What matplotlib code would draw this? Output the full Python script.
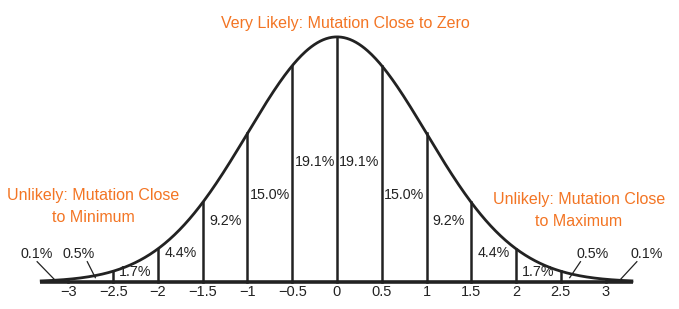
import numpy as np
import matplotlib.pyplot as plt

plt.rcParams['font.family'] = ['Liberation Sans', 'DejaVu Sans']

# data
tick_vals = [-3, -2.5, -2, -1.5, -1, -0.5, 0, 0.5, 1, 1.5, 2, 2.5, 3]
tick_labels = ['\u22123', '\u22122.5', '\u22122', '\u22121.5', '\u22121', '\u22120.5',
               '0', '0.5', '1', '1.5', '2', '2.5', '3']
band_pct = ['1.7%', '4.4%', '9.2%', '15.0%', '19.1%', '19.1%', '15.0%', '9.2%', '4.4%', '1.7%']
band_mid = [-2.25, -1.75, -1.25, -0.75, -0.25, 0.25, 0.75, 1.25, 1.75, 2.25]
band_y = [0.016, 0.047, 0.099, 0.142, 0.195, 0.195, 0.142, 0.099, 0.047, 0.016]
tail_pct = ['0.5%', '0.1%']

orange = '#f37524'
ink = '#222222'


def pdf(x):
    return np.exp(-0.5 * np.asarray(x) ** 2) / np.sqrt(2 * np.pi)


fig = plt.figure(figsize=(6.79, 3.09), dpi=100)
ax = fig.add_axes([0, 0, 1, 1])
ax.set_xlim(-3.765, 3.821)
ax.set_ylim(-0.044, 0.459)
ax.axis('off')

# curve
xs = np.linspace(-3.32, 3.31, 600)
ax.plot(xs, pdf(xs), color=ink, lw=2, solid_capstyle='butt')

# gray tails
for lo, hi in [(-3.32, -3), (3, 3.31)]:
    xt = np.linspace(lo, hi, 50)
    ax.fill_between(xt, 0, pdf(xt), color='#888888', lw=0)

# baseline
ax.plot([-3.32, 3.31], [0, 0], color=ink, lw=2.6, solid_capstyle='butt')

# vertical dividers + tick labels
for v, lab in zip(tick_vals, tick_labels):
    ax.plot([v, v], [0, pdf(v)], color=ink, lw=1.8)
    ax.text(v, -0.017, lab, ha='center', va='center', fontsize=10.5, color=ink)

# band percentages
for m, y, p in zip(band_mid, band_y, band_pct):
    ax.text(m, y, p, ha='center', va='center', fontsize=10.3, color=ink)

# tail labels with leader lines
ax.text(-2.89, 0.046, tail_pct[0], ha='center', va='center', fontsize=10.3, color=ink)
ax.text(-3.35, 0.046, tail_pct[1], ha='center', va='center', fontsize=10.3, color=ink)
ax.text(2.86, 0.046, tail_pct[0], ha='center', va='center', fontsize=10.3, color=ink)
ax.text(3.46, 0.046, tail_pct[1], ha='center', va='center', fontsize=10.3, color=ink)
ax.plot([-2.79, -2.70], [0.033, 0.007], color=ink, lw=0.9)
ax.plot([-3.35, -3.15], [0.033, 0.003], color=ink, lw=0.9)
ax.plot([2.72, 2.60], [0.033, 0.007], color=ink, lw=0.9)
ax.plot([3.35, 3.16], [0.033, 0.003], color=ink, lw=0.9)

# orange annotations
ax.text(0.09, 0.421, 'Very Likely: Mutation Close to Zero', ha='center', va='center',
        fontsize=11.5, color=orange)
ax.text(-2.72, 0.123, 'Unlikely: Mutation Close\nto Minimum', ha='center', va='center',
        fontsize=11.5, color=orange, linespacing=1.65)
ax.text(2.70, 0.116, 'Unlikely: Mutation Close\nto Maximum', ha='center', va='center',
        fontsize=11.5, color=orange, linespacing=1.6)

plt.savefig('out.png', dpi=100)
